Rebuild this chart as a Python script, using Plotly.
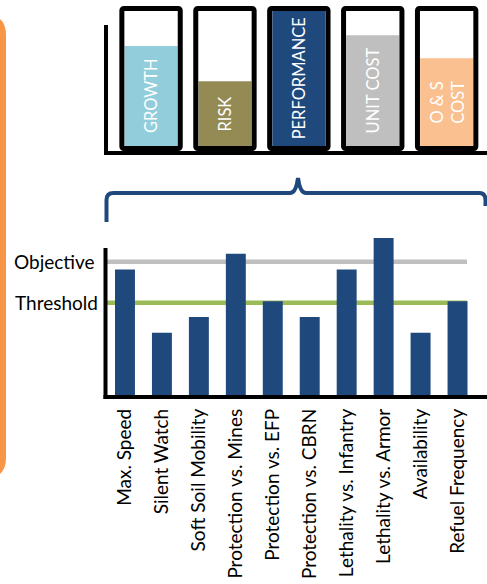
import plotly.graph_objects as go

W, H = 487, 584

# Trade-space summary boxes (fill level of each gauge, 0..1)
box_names = ["GROWTH", "RISK", "PERFORMANCE", "UNIT COST", "O & S<br>COST"]
box_levels = [0.74, 0.48, 1.00, 0.82, 0.65]
box_colors = ["#92CDDC", "#948A54", "#1F497D", "#BFBFBF", "#FAC090"]

# Performance attributes
attributes = ["Max. Speed", "Silent Watch", "Soft Soil Mobility", "Protection vs. Mines",
              "Protection vs. EFP", "Protection vs. CBRN", "Lethality vs. Infantry",
              "Lethality vs. Armor", "Availability", "Refuel Frequency"]
scores = [8, 4, 5, 9, 6, 5, 8, 10, 4, 6]
objective = 8.5
threshold = 5.9

NAVY = "#1F497D"


def px(x):
    return x / W


def py(y):
    return 1 - y / H


fig = go.Figure()

# gauge fills
fig.add_trace(go.Bar(
    x=list(range(len(box_names))), y=box_levels, width=0.718,
    marker=dict(color=box_colors, line=dict(width=0)),
    xaxis="x", yaxis="y", hoverinfo="skip", showlegend=False,
))
# gauge frames
pad = 2.5 / 135
fig.add_trace(go.Bar(
    x=list(range(len(box_names))), y=[1 + 2 * pad] * len(box_names), base=-pad,
    width=0.79,
    marker=dict(color="rgba(0,0,0,0)", line=dict(color="black", width=5), cornerradius=2),
    xaxis="x", yaxis="y", hoverinfo="skip", showlegend=False,
))

# performance bars
fig.add_trace(go.Bar(
    x=attributes, y=scores, width=0.54,
    marker=dict(color=NAVY, line=dict(width=0)),
    xaxis="x2", yaxis="y2", hoverinfo="skip", showlegend=False,
))

shapes = []
# orange side panel
shapes.append(dict(
    type="path", xref="paper", yref="paper",
    path=(f"M {px(-20)},{py(15)} L {px(-14)},{py(15)} Q {px(6)},{py(15)} {px(6)},{py(35)} "
          f"L {px(6)},{py(458)} Q {px(6)},{py(478)} {px(-14)},{py(478)} L {px(-20)},{py(478)} Z"),
    fillcolor="#F79646", line=dict(width=0), layer="below",
))
# top axes
shapes.append(dict(type="line", xref="paper", yref="paper",
                   x0=px(106), x1=px(106), y0=py(25), y1=py(155),
                   line=dict(color="black", width=4)))
shapes.append(dict(type="line", xref="paper", yref="paper",
                   x0=px(104), x1=px(490), y0=py(153), y1=py(153),
                   line=dict(color="black", width=4)))
# brace
brace = (f"M {px(106.5)},{py(222)} L {px(106.5)},{py(200)} "
         f"Q {px(106.5)},{py(193)} {px(113.5)},{py(193)} L {px(290)},{py(193)} "
         f"Q {px(296)},{py(193)} {px(298)},{py(178)} "
         f"Q {px(300)},{py(193)} {px(306)},{py(193)} L {px(479)},{py(193)} "
         f"Q {px(485.5)},{py(193)} {px(485.5)},{py(200)} L {px(485.5)},{py(206)}")
shapes.append(dict(type="path", xref="paper", yref="paper", path=brace,
                   line=dict(color=NAVY, width=4)))
# objective / threshold lines
shapes.append(dict(type="line", xref="paper", yref="y2", x0=px(105), x1=px(467),
                   y0=objective, y1=objective, line=dict(color="#BFBFBF", width=4.5),
                   layer="below"))
shapes.append(dict(type="line", xref="paper", yref="y2", x0=px(105), x1=px(467),
                   y0=threshold, y1=threshold, line=dict(color="#9BBB59", width=4.5),
                   layer="below"))
# bottom axes
shapes.append(dict(type="line", xref="paper", yref="paper",
                   x0=px(105.5), x1=px(105.5), y0=py(248), y1=py(399),
                   line=dict(color="black", width=4)))
shapes.append(dict(type="line", xref="paper", yref="paper",
                   x0=px(103.5), x1=px(490), y0=py(397), y1=py(397),
                   line=dict(color="black", width=4)))

annotations = []
for i, (name, lvl) in enumerate(zip(box_names, box_levels)):
    annotations.append(dict(
        x=i, y=lvl / 2, xref="x", yref="y", text=name, showarrow=False,
        textangle=-90, font=dict(family="Lato", size=16.5, color="white"),
        xanchor="center", yanchor="middle",
    ))
annotations.append(dict(x=px(97), y=objective, xref="paper", yref="y2", text="Objective",
                        showarrow=False, xanchor="right", yanchor="middle",
                        font=dict(family="Lato", size=19, color="black")))
annotations.append(dict(x=px(100), y=threshold, xref="paper", yref="y2", text="Threshold",
                        showarrow=False, xanchor="right", yanchor="middle",
                        font=dict(family="Lato", size=19, color="black")))

# top gauge axis: [0,1] maps to the inner box (y=146..11 px), with room for the frame
ext = 5.0 / 135
fig.update_layout(
    width=W, height=H,
    margin=dict(l=0, r=0, t=0, b=0),
    paper_bgcolor="white", plot_bgcolor="rgba(0,0,0,0)",
    barmode="overlay",
    showlegend=False,
    xaxis=dict(domain=[px(114.1), px(483.6)], range=[-0.5, 4.5], visible=False,
               fixedrange=True),
    yaxis=dict(domain=[py(146 + 5.0), py(11 - 5.0)], range=[-ext, 1 + ext], visible=False,
               fixedrange=True),
    xaxis2=dict(domain=[px(106.5), px(476)], anchor="y2", showline=False, showgrid=False,
                zeroline=False, ticks="", tickangle=-90, ticklabelstandoff=8,
                tickfont=dict(family="Lato", size=19, color="black"), fixedrange=True),
    yaxis2=dict(domain=[py(396), py(230.1)], range=[0, 10.5], visible=False,
                fixedrange=True),
    shapes=shapes,
    annotations=annotations,
)

fig.write_html("out.html")
